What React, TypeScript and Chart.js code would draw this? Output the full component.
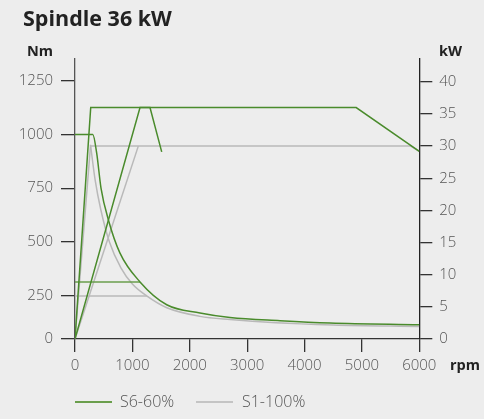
import React, { useEffect, useRef } from "react";
import { Chart, registerables } from "chart.js";

Chart.register(...registerables);

// X axis (rpm)
const rpmTicks = [0, 1000, 2000, 3000, 4000, 5000, 6000];
// Left axis (Nm) tick values; bottom of axis is labelled "0"
const torqueTicks = [50, 250, 500, 750, 1000, 1250];
const torqueTickLabels = ["0", "250", "500", "750", "1000", "1250"];
// Right axis (kW)
const powerTicks = [0, 5, 10, 15, 20, 25, 30, 35, 40];

// S6-60% (green)
const s6TorqueRpm = [0, 310, 378, 453, 581, 784, 1133, 1598, 2178, 2701, 3573, 4444, 6000];
const s6TorqueNm = [1000, 1000, 913, 751, 604, 449, 315, 209, 171, 150, 135, 124, 116];
const s6PowerRpm = [0, 274, 4900, 6000];
const s6PowerKw = [0, 36, 36, 29.2];
const s6LowPowerRpm = [0, 1133, 1307, 1511];
const s6LowPowerKw = [0, 36, 36, 29.1];
const s6LowTorqueRpm = [0, 1133];
const s6LowTorqueNm = [315, 315];

// S1-100% (grey)
const s1TorqueRpm = [270, 350, 450, 600, 800, 1000, 1249, 1600, 2178, 2701, 3500, 4500, 6000];
const s1TorqueNm = [952, 790, 650, 500, 380, 305, 250, 195, 155, 140, 125, 115, 108];
const s1PowerRpm = [0, 270, 5850, 6000];
const s1PowerKw = [0, 30, 30, 29.2];
const s1LowPowerRpm = [0, 1103];
const s1LowPowerKw = [0, 30];
const s1LowTorqueRpm = [0, 1249];
const s1LowTorqueNm = [250, 250];

const GREEN = "#4a8b2c";
const GREY = "#b9b9b9";
const FONT = "'Open Sans', sans-serif";

const pts = (xs: number[], ys: number[]) => xs.map((x, i) => ({ x, y: ys[i] }));

export default function App() {
  const ref = useRef<HTMLCanvasElement | null>(null);

  useEffect(() => {
    document.body.style.margin = "0";
    document.body.style.background = "#ededed";
    const canvas = ref.current;
    if (!canvas) return;

    const line = (data: any[], color: string, axis: string, curve = false) => ({
      data,
      borderColor: color,
      backgroundColor: color,
      borderWidth: 1.5,
      pointRadius: 0,
      fill: false,
      yAxisID: axis,
      tension: 0,
      cubicInterpolationMode: curve ? "monotone" : "default",
    });

    const tickFont = { family: FONT, size: 15, weight: "300" };

    const chart = new Chart(canvas, {
      type: "line",
      data: {
        datasets: [
          line(pts(s6TorqueRpm, s6TorqueNm), GREEN, "yT", true),
          line(pts(s6PowerRpm, s6PowerKw), GREEN, "yP"),
          line(pts(s6LowPowerRpm, s6LowPowerKw), GREEN, "yP"),
          line(pts(s6LowTorqueRpm, s6LowTorqueNm), "#6a9e4c", "yT"),
          line(pts(s1TorqueRpm, s1TorqueNm), GREY, "yT", true),
          line(pts(s1PowerRpm, s1PowerKw), GREY, "yP"),
          line(pts(s1LowPowerRpm, s1LowPowerKw), GREY, "yP"),
          line(pts(s1LowTorqueRpm, s1LowTorqueNm), GREY, "yT"),
        ] as any,
      },
      options: {
        animation: false,
        responsive: false,
        events: [],
        layout: { padding: { left: 0, right: 0, top: 59, bottom: 40 } },
        plugins: { legend: { display: false }, tooltip: { enabled: false }, title: { display: false } },
        scales: {
          x: {
            type: "linear",
            min: 0,
            max: 6000,
            afterBuildTicks: (s: any) => {
              s.ticks = rpmTicks.map((v) => ({ value: v }));
            },
            afterFit: (s: any) => {
              s.height = 40;
            },
            ticks: { color: "#555", font: tickFont, padding: 5, maxRotation: 0, autoSkip: false, callback: (v: any) => String(v) },
            grid: { drawOnChartArea: false, drawTicks: true, tickLength: 13, color: "#333", lineWidth: 1.3 },
            border: { color: "#333", width: 1.3 },
          },
          yT: {
            type: "linear",
            position: "left",
            min: 50,
            max: 1350,
            afterBuildTicks: (s: any) => {
              s.ticks = torqueTicks.map((v) => ({ value: v }));
            },
            afterFit: (s: any) => {
              s.width = 75;
            },
            ticks: {
              color: "#555",
              font: tickFont,
              padding: 8,
              callback: (v: any) => torqueTickLabels[torqueTicks.indexOf(Number(v))] ?? String(v),
            },
            grid: { drawOnChartArea: false, drawTicks: true, tickLength: 14, color: "#333", lineWidth: 1.3 },
            border: { color: "#555", width: 1.3 },
          },
          yP: {
            type: "linear",
            position: "right",
            min: 0,
            max: 43.55,
            afterBuildTicks: (s: any) => {
              s.ticks = powerTicks.map((v) => ({ value: v }));
            },
            afterFit: (s: any) => {
              s.width = 64.7;
            },
            ticks: { color: "#555", font: tickFont, padding: 7, callback: (v: any) => String(v) },
            grid: { drawOnChartArea: false, drawTicks: true, tickLength: 13, color: "#333", lineWidth: 1.3 },
            border: { color: "#222", width: 1.3 },
          },
        },
      } as any,
    });
    return () => chart.destroy();
  }, []);

  const boldLabel: React.CSSProperties = {
    position: "absolute",
    fontFamily: FONT,
    fontWeight: 700,
    fontSize: 14.5,
    color: "#222",
    lineHeight: "20px",
    height: 20,
    whiteSpace: "nowrap",
  };
  const legendText: React.CSSProperties = {
    position: "absolute",
    fontFamily: FONT,
    fontWeight: 300,
    fontSize: 16,
    color: "#555",
    lineHeight: "20px",
    top: 391,
    whiteSpace: "nowrap",
  };

  return (
    <div style={{ position: "fixed", left: 0, top: 0, width: 484, height: 419, background: "#ededed", overflow: "hidden" }}>
      <canvas ref={ref} width={484} height={419} style={{ position: "absolute", left: 0, top: 0 }} />
      <div
        style={{
          position: "absolute",
          left: 23,
          top: 7,
          fontFamily: FONT,
          fontWeight: 700,
          fontSize: 21.5,
          lineHeight: "21px",
          color: "#222",
          whiteSpace: "nowrap",
        }}
      >
        Spindle 36 kW
      </div>
      <div style={{ ...boldLabel, right: 484 - 53, top: 41 }}>Nm</div>
      <div style={{ ...boldLabel, left: 439, top: 41 }}>kW</div>
      <div style={{ ...boldLabel, left: 450, top: 355 }}>rpm</div>
      <div style={{ position: "absolute", left: 75, top: 401, width: 37, height: 1.5, background: "#6a9e4c" }} />
      <div style={{ ...legendText, left: 120 }}>S6-60%</div>
      <div style={{ position: "absolute", left: 196, top: 401, width: 37, height: 1.5, background: "#c4c4c4" }} />
      <div style={{ ...legendText, left: 242 }}>S1-100%</div>
    </div>
  );
}
